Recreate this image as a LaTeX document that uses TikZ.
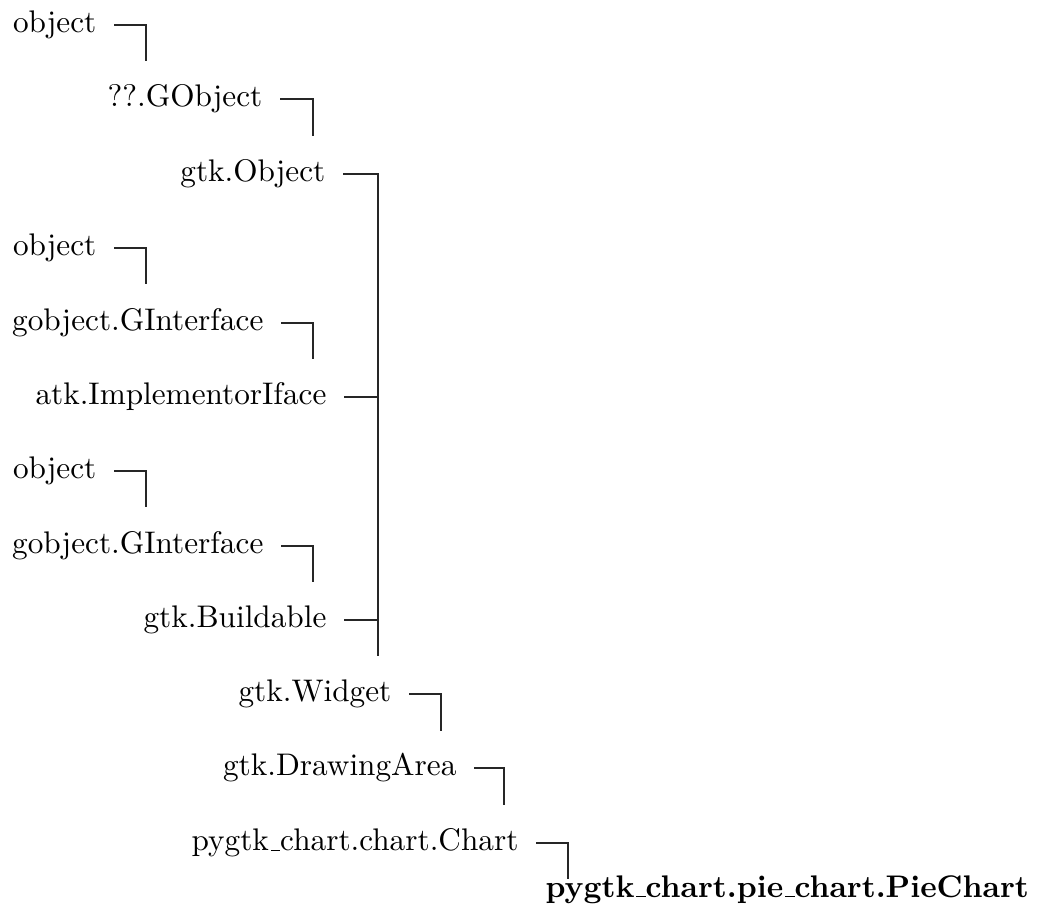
\documentclass[tikz,border=0pt]{standalone}
\newcommand\usc{\leavevmode\kern.06em\vbox{\hrule width.3em}}
\begin{document}
\begin{tikzpicture}[x=0.32pt,y=-0.32pt,
  cls/.style={anchor=east,inner sep=0pt,text height=6.94pt,text depth=1.94pt,font=\fontsize{10}{12}\selectfont},
  leaf/.style={anchor=base west,inner sep=0pt,font=\fontsize{10}{12}\selectfont\bfseries},
  link/.style={line width=0.4pt,black!85}]
\useasboundingbox (0,0) rectangle (1042,914);
% nodes
\node[cls] (o1) at (97,25) {object};
\node[cls] (gobj) at (263,99) {??.GObject};
\node[cls] (gtkobj) at (326,174) {gtk.Object};
\node[cls] (o2) at (97,248) {object};
\node[cls] (gi1) at (264,323) {gobject.GInterface};
\node[cls] (atk) at (327,397) {atk.ImplementorIface};
\node[cls] (o3) at (97,471) {object};
\node[cls] (gi2) at (264,546) {gobject.GInterface};
\node[cls] (build) at (327,620) {gtk.Buildable};
\node[cls] (widget) at (392,694) {gtk.Widget};
\node[cls] (draw) at (457,768) {gtk.DrawingArea};
\node[cls] (chart) at (519,843) {pygtk\usc chart.chart.Chart};
\node[leaf] (pie) at (545,897) {pygtk\usc chart.pie\usc chart.PieChart};
% free ends
\coordinate (e1) at (146,61);
\coordinate (e2) at (313,136);
\coordinate (e3) at (378,656);
\coordinate (e4) at (146,284);
\coordinate (e5) at (313,359);
\coordinate (e6) at (146,507);
\coordinate (e7) at (313,582);
\coordinate (e8) at (441,731);
\coordinate (e9) at (504,805);
\coordinate (e10) at (568,879);
% connectors
\draw[link] ([xshift=5.44pt]o1.east) -| (e1);
\draw[link] ([xshift=5.44pt]gobj.east) -| (e2);
\draw[link] ([xshift=5.44pt]gtkobj.east) -| (e3);
\draw[link] ([xshift=5.44pt]o2.east) -| (e4);
\draw[link] ([xshift=5.44pt]gi1.east) -| (e5);
\draw[link] ([xshift=5.44pt]atk.east) -- (atk.east -| e3);
\draw[link] ([xshift=5.44pt]o3.east) -| (e6);
\draw[link] ([xshift=5.44pt]gi2.east) -| (e7);
\draw[link] ([xshift=5.44pt]build.east) -- (build.east -| e3);
\draw[link] ([xshift=5.44pt]widget.east) -| (e8);
\draw[link] ([xshift=5.44pt]draw.east) -| (e9);
\draw[link] ([xshift=5.44pt]chart.east) -| (e10);
\end{tikzpicture}
\end{document}
